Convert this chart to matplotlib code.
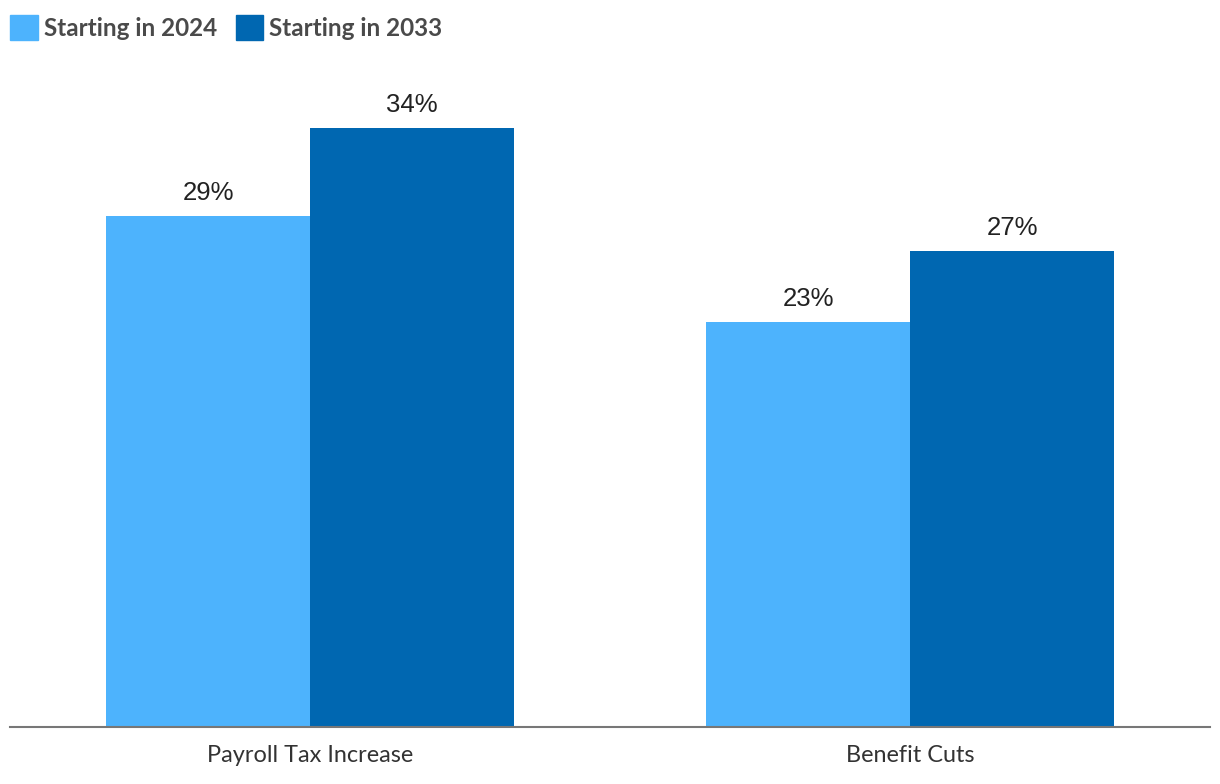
import matplotlib.pyplot as plt
from matplotlib.patches import Patch

categories = ["Payroll Tax Increase", "Benefit Cuts"]
series_names = ["Starting in 2024", "Starting in 2033"]
start_2024 = [29, 23]
start_2033 = [34, 27]
colors = ["#4db3fd", "#0067b1"]

fig = plt.figure(figsize=(12.2, 7.84), dpi=100)
ax = fig.add_axes([10 / 1220, 57 / 784, 1200 / 1220, 667 / 784])

x = list(range(len(categories)))
w = 0.34
for offset, vals, col in [(-w / 2, start_2024, colors[0]), (w / 2, start_2033, colors[1])]:
    pos = [i + offset for i in x]
    ax.bar(pos, vals, width=w, color=col, zorder=2)
    for p, v in zip(pos, vals):
        ax.annotate(f"{v}%", (p, v), xytext=(0, 11.5), textcoords="offset points",
                    ha="center", va="baseline", fontsize=18.5,
                    family="Liberation Sans", color="#222222")

ax.set_xlim(-0.5, 1.5)
ax.set_ylim(0, 37.86)
ax.set_xticks(x)
ax.set_xticklabels(categories, family="Lato", fontsize=16.9, color="#333333")
ax.tick_params(axis="x", length=0, pad=13)
ax.set_yticks([])
for s in ["top", "right", "left"]:
    ax.spines[s].set_visible(False)
ax.spines["bottom"].set_color("#777777")
ax.spines["bottom"].set_linewidth(1.5)

handles = [Patch(color=c) for c in colors]
fig.legend(handles, series_names, loc="upper left", bbox_to_anchor=(3 / 1220, 1 - 8 / 784),
           ncol=2, frameon=False, handlelength=1.12, handleheight=1.2,
           handletextpad=0.25, columnspacing=0.8, borderaxespad=0, borderpad=0.3,
           prop={"family": "Lato", "weight": "bold", "size": 17.5}, labelcolor="#4a4a4a")

fig.savefig("out.png", dpi=100)
